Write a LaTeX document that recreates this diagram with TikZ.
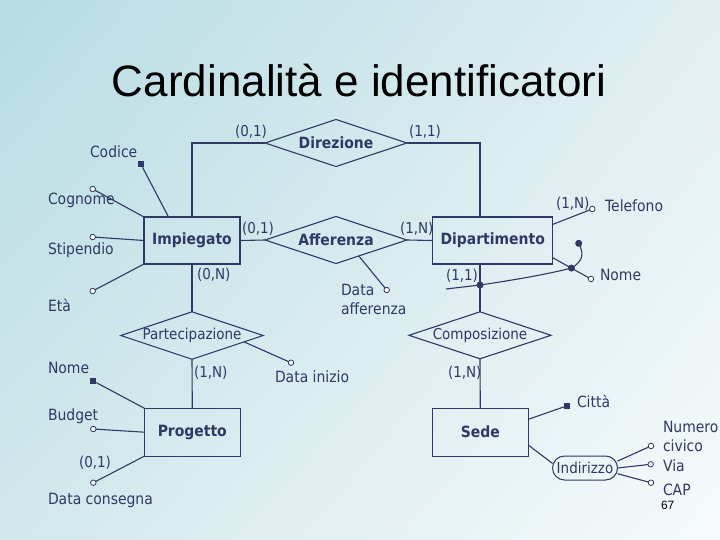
\documentclass[tikz,border=0pt]{standalone}
\usepackage{fontspec}
\usepackage{xcolor}
\definecolor{ercolor}{RGB}{48, 56, 102}
\definecolor{bgtl}{RGB}{182, 220, 227}
\definecolor{bgtr}{RGB}{224, 239, 242}
\definecolor{bgbl}{RGB}{210, 232, 236}
\definecolor{bgbr}{RGB}{246, 250, 251}
\newfontfamily\titlefont{Liberation Sans}
\newfontfamily\erfont{DejaVu Sans}[FakeStretch=0.9]
\usepackage{tikz}
\usetikzlibrary{positioning, shapes.geometric, shadings}

\begin{document}
\begin{tikzpicture}[
    x=1pt, y=-1pt,
    every node/.style={align=left, inner sep=0pt, outer sep=0pt},
    entity/.style={rectangle, draw=ercolor, line width=1.1pt, minimum width=96pt, minimum height=47pt, text=ercolor, font=\erfont\bfseries\fontsize{15.5}{18}\selectfont},
    relation/.style={diamond, draw=ercolor, line width=1.1pt, aspect=3, minimum width=142pt, minimum height=47pt, text=ercolor, font=\erfont\bfseries\fontsize{15.5}{18}\selectfont},
    attr/.style={circle, draw=ercolor, fill=white, line width=0.8pt, minimum size=5.5pt},
    keyattr/.style={rectangle, fill=ercolor, minimum size=6pt},
    iddot/.style={circle, fill=ercolor, minimum size=7pt},
    attrtext/.style={anchor=west, text=ercolor, font=\erfont\fontsize{15.5}{19}\selectfont},
    cardtext/.style={anchor=west, text=ercolor, font=\erfont\fontsize{15}{17}\selectfont},
    link/.style={draw=ercolor, line width=1.1pt}
]

% Background and title
\shade[upper left=bgtl, upper right=bgtr, lower left=bgbl, lower right=bgbr] (0,0) rectangle (720,540);
\useasboundingbox (0,0) rectangle (720,540);
\node[font=\titlefont\fontsize{44}{50}\selectfont] (title) at (359,81) {Cardinalità e identificatori};

% Nodes
\node[entity] (impiegato) at (192,240.5) {Impiegato};
\node[entity, minimum width=120pt] (dipartimento) at (492.7,240.5) {Dipartimento};
\node[entity, minimum height=48pt] (progetto) at (192.3,432.2) {Progetto};
\node[entity, minimum height=48pt] (sede) at (480.3,432.2) {Sede};
\node[relation] (direzione) at (336,143) {Direzione};
\node[relation] (afferenza) at (336,240) {Afferenza};
\node[relation, font=\erfont\fontsize{15}{18}\selectfont] (partecipazione) at (192,335.5) {Partecipazione};
\node[relation, font=\erfont\fontsize{15}{18}\selectfont] (composizione) at (480,335.3) {Composizione};
\node[rectangle, draw=ercolor, line width=1pt, rounded corners=12pt, minimum width=65pt, minimum height=24pt, text=ercolor, font=\erfont\fontsize{15}{18}\selectfont] (indirizzo) at (585,468) {Indirizzo};

% Attributes
\node[keyattr] (codice) at (141,164.3) {};
\node[attr] (cognome) at (92.7,189) {};
\node[attr] (stipendio) at (92.7,237) {};
\node[attr] (eta) at (92.7,291) {};
\node[keyattr] (nomeprog) at (93.3,381) {};
\node[attr] (budget) at (93.3,429) {};
\node[attr] (consegna) at (93.3,482.7) {};
\node[attr] (inizio) at (291,362.7) {};
\node[attr] (dataaff) at (386.7,290) {};
\node[attr] (telefono) at (592.3,209) {};
\node[attr] (nomedip) at (591,279) {};
\node[keyattr] (citta) at (567.3,405.7) {};
\node[attr] (numero) at (651,446) {};
\node[attr] (via) at (650.7,464.3) {};
\node[attr] (cap) at (651,482.7) {};

% Texts
\node[attrtext] at (90,152) {Codice};
\node[attrtext] at (48,200) {Cognome};
\node[attrtext] at (48,250) {Stipendio};
\node[attrtext] at (48,305) {Età};
\node[attrtext] at (48,368) {Nome};
\node[attrtext] at (48,416) {Budget};
\node[attrtext] at (48,500) {Data consegna};
\node[attrtext] at (275,377) {Data inizio};
\node[attrtext] at (341,299.5) {Data\\afferenza};
\node[attrtext] at (605,206) {Telefono};
\node[attrtext] at (600,275) {Nome};
\node[attrtext] at (577,401) {Città};
\node[attrtext] at (663,436.5) {Numero\\civico};
\node[attrtext] at (663,466) {Via};
\node[attrtext] at (663,490) {CAP};
\node[anchor=west, font=\titlefont\fontsize{12}{14}\selectfont] at (661,505) {67};

% Cardinalities
\node[cardtext] at (235,132) {(0,1)};
\node[cardtext] at (409,132) {(1,1)};
\node[cardtext] at (242,229) {(0,1)};
\node[cardtext] at (400,229) {(1,N)};
\node[cardtext] at (197,275) {(0,N)};
\node[cardtext] at (194,373) {(1,N)};
\node[cardtext] at (446,276) {(1,1)};
\node[cardtext] at (448,373) {(1,N)};
\node[cardtext] at (556,204) {(1,N)};
\node[cardtext] at (79,463) {(0,1)};

% Connections
\draw[link] (impiegato.north) |- (direzione.west);
\draw[link] (direzione.east) -| (dipartimento.north -| composizione.north);
\draw[link] (impiegato.east) -- (afferenza.west);
\draw[link] (afferenza.east) -- (dipartimento.west);
\draw[link] (impiegato.south) -- (partecipazione.north);
\draw[link] (partecipazione.south) -- (progetto.north);
\draw[link] (dipartimento.south -| composizione.north) -- (composizione.north);
\draw[link] (composizione.south) -- (sede.north);
\draw[link] (sede.-15) -- (indirizzo.172);

% Attribute links
\draw[link] (impiegato.135) -- (codice);
\draw[link] (impiegato.north west) -- (cognome);
\draw[link] (impiegato.west) -- (stipendio);
\draw[link] (impiegato.south west) -- (eta);
\draw[link] (progetto.north west) -- (nomeprog);
\draw[link] (progetto.west) -- (budget);
\draw[link] (progetto.south west) -- (consegna);
\draw[link] (partecipazione.-7) -- (inizio);
\draw[link] (afferenza.-35) -- (dataaff);
\draw[link] (dipartimento.15) -- (telefono);
\draw[link] (dipartimento.-16) -- (nomedip);
\draw[link] (sede.15) -- (citta);
\draw[link] (indirizzo.12) -- (numero);
\draw[link] (indirizzo.east) -- (via);
\draw[link] (indirizzo.-10) -- (cap);

% External identifier
\coordinate (idstart) at (446,289);
\node[iddot] (iddot1) at (480,285) {};
\path (dipartimento.-16) -- (nomedip) node[iddot, pos=0.52] (iddot2) {};
\node[iddot] (iddot3) at (578.7,243.3) {};
\draw[link] (idstart) -- (iddot1.center) .. controls (528,278) and (556,272) .. (iddot2.center) .. controls (585,260) and (583,252) .. (iddot3.center);

\end{tikzpicture}
\end{document}
